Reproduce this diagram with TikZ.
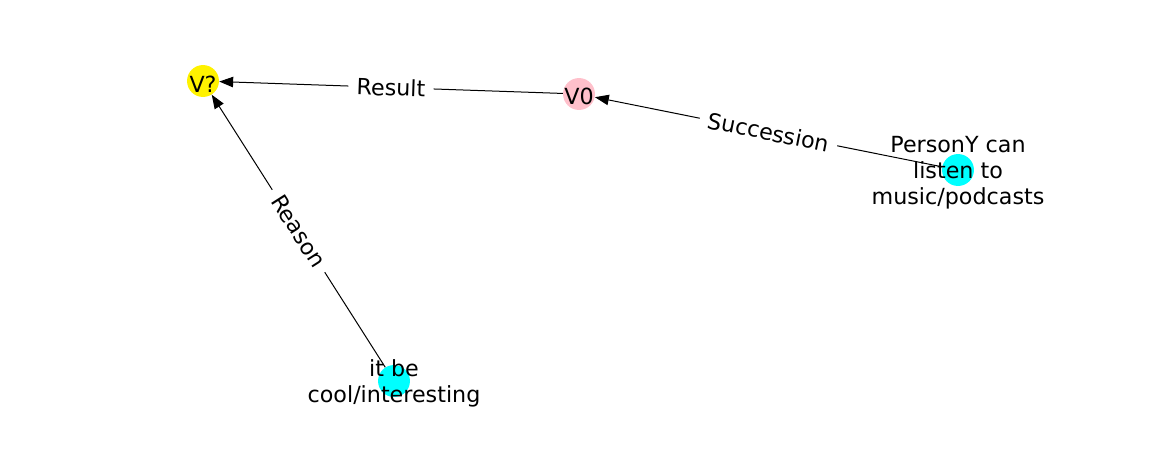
\documentclass[tikz,border=0pt]{standalone}
\usepackage{fontspec}
\setmainfont{DejaVu Sans}
\usepackage{xcolor}
\usetikzlibrary{arrows.meta}
\tikzset{>={Triangle[length=10pt,width=7.5pt]}}
\tikzstyle{vert} = [circle, minimum size=23pt, inner sep=0pt, draw=none]
\tikzstyle{txt} = [align=center, inner sep=0pt, yshift=-2pt, font=\fontsize{16}{18.7}\selectfont]
\tikzstyle{rel} = [fill=white, sloped, inner xsep=6pt, inner ysep=2pt, font=\fontsize{16}{18.7}\selectfont]
\definecolor{nodecyan}{RGB}{0,255,255}
\definecolor{nodepink}{RGB}{255,192,203}

\begin{document}
\begin{tikzpicture}[x=0.72pt, y=-0.72pt]
\useasboundingbox (0,0) rectangle (1162,462);
\node [vert, fill=yellow] (Vq) at (203, 81) {};
\node [vert, fill=nodepink] (V0) at (579, 94) {};
\node [vert, fill=nodecyan] (P) at (958, 170) {};
\node [vert, fill=nodecyan] (C) at (394, 381) {};
\draw [->, line width=0.72pt] (V0) -- node [rel] {Result} (Vq);
\draw [->, line width=0.72pt] (P) -- node [rel] {Succession} (V0);
\draw [->, line width=0.72pt] (C) -- node [rel] {Reason} (Vq);
\node [txt] at (Vq) {V?};
\node [txt] at (V0) {V0};
\node [txt] at (P) {PersonY can\\listen to\\music/podcasts};
\node [txt] at (C) {it be\\cool/interesting};
\end{tikzpicture}
\end{document}
